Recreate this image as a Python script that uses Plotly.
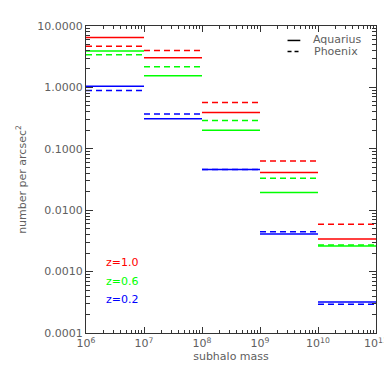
import plotly.graph_objects as go

# bin edges in subhalo mass
bin_edges = [1e6, 1e7, 1e8, 1e9, 1e10, 1e11]

# number per arcsec^2 in each mass bin
aq_z10 = [6.5, 3.05, 0.39, 0.041, 0.0034]
ph_z10 = [4.7, 4.0, 0.57, 0.063, 0.0059]
aq_z06 = [3.9, 1.55, 0.20, 0.0194, 0.0026]
ph_z06 = [3.4, 2.17, 0.288, 0.033, 0.0027]
aq_z02 = [1.04, 0.31, 0.046, 0.0041, 0.00032]
ph_z02 = [0.89, 0.37, 0.046, 0.00447, 0.000295]

x_tickvals = [1e6, 1e7, 1e8, 1e9, 1e10, 1e11]
x_ticktext = ["10<sup>6</sup>", "10<sup>7</sup>", "10<sup>8</sup>", "10<sup>9</sup>",
              "10<sup>10</sup>", "10<sup>11</sup>"]
y_tickvals = [1e-4, 1e-3, 1e-2, 1e-1, 1, 10]
y_ticktext = ["0.0001", "0.0010", "0.0100", "0.1000", "1.0000", "10.0000"]

RED, GREEN, BLUE = "#ff0000", "#00ff00", "#0000ff"
series = [
    (aq_z10, RED, "solid"), (ph_z10, RED, "dash"),
    (aq_z06, GREEN, "solid"), (ph_z06, GREEN, "dash"),
    (aq_z02, BLUE, "solid"), (ph_z02, BLUE, "dash"),
]

fig = go.Figure()
for vals, col, dash in series:
    xs, ys = [], []
    for i, v in enumerate(vals):
        xs += [bin_edges[i], bin_edges[i + 1], None]
        ys += [v, v, None]
    fig.add_trace(go.Scatter(x=xs, y=ys, mode="lines", showlegend=False,
                             line=dict(color=col, width=1.5,
                                       dash="6px,4px" if dash == "dash" else "solid")))

FONT = dict(family="DejaVu Sans", size=11, color="#606060")

minor_x = [m * 10 ** e for e in range(6, 11) for m in range(2, 10)]
minor_y = [m * 10 ** e for e in range(-4, 1) for m in range(2, 10)]

fig.update_xaxes(type="log", range=[6, 11], tickvals=x_tickvals, ticktext=x_ticktext,
                 ticks="inside", ticklen=6, tickcolor="#333", mirror="allticks",
                 ticklabeloverflow="allow",
                 showline=True, linecolor="#333", linewidth=1, showgrid=False, zeroline=False,
                 minor=dict(tickvals=minor_x, ticks="inside", ticklen=3, tickcolor="#333", showgrid=False),
                 tickfont=FONT, title=dict(text="subhalo mass", font=FONT, standoff=3))
fig.update_yaxes(type="log", range=[-4, 1], tickvals=y_tickvals, ticktext=y_ticktext,
                 ticks="inside", ticklen=7, tickcolor="#333", mirror="allticks",
                 ticklabeloverflow="allow",
                 showline=True, linecolor="#333", linewidth=1, showgrid=False, zeroline=False,
                 minor=dict(tickvals=minor_y, ticks="inside", ticklen=4, tickcolor="#333", showgrid=False),
                 tickfont=FONT, title=dict(text="number per arcsec<sup>2</sup>", font=FONT, standoff=8))

W, H = 392, 370
L, R, T, B = 78, 19, 17, 45
pw, ph = W - L - R, H - T - B


def px(x):
    return (x - L) / pw


def py(y):
    return (H - B - y) / ph


# legend samples
fig.add_shape(type="line", xref="paper", yref="paper", x0=px(283), x1=px(296), y0=py(31.5), y1=py(31.5),
              line=dict(color="black", width=1.5))
fig.add_shape(type="line", xref="paper", yref="paper", x0=px(283), x1=px(296), y0=py(42.5), y1=py(42.5),
              line=dict(color="black", width=1.5, dash="4px,3px"))
fig.add_annotation(xref="paper", yref="paper", x=px(307), y=py(31), text="Aquarius", showarrow=False,
                   xanchor="left", yanchor="middle", font=FONT)
fig.add_annotation(xref="paper", yref="paper", x=px(308), y=py(43), text="Phoenix", showarrow=False,
                   xanchor="left", yanchor="middle", font=FONT)

for txt, col, yy in [("z=1.0", RED, 254), ("z=0.6", GREEN, 273), ("z=0.2", BLUE, 291)]:
    fig.add_annotation(xref="paper", yref="paper", x=px(96), y=py(yy), text=txt, showarrow=False,
                       xanchor="left", yanchor="middle", font=dict(family="DejaVu Sans", size=11, color=col))

fig.update_layout(width=W, height=H, margin=dict(l=L, r=R, t=T, b=B),
                  paper_bgcolor="white", plot_bgcolor="white", font=FONT)

fig.write_html("out.html")
